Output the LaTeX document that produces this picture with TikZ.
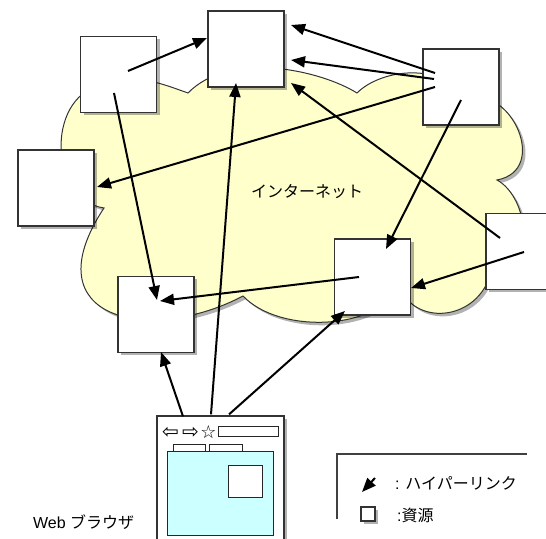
\documentclass[tikz,border=0pt]{standalone}
\usepackage{fontspec}
\setmainfont{Liberation Sans}
\newfontfamily\jp{Noto Sans CJK JP}
\newfontfamily\sym{DejaVu Sans}
\usetikzlibrary{arrows.meta,calc,shadows}
\definecolor{cloudfill}{RGB}{255,255,204}
\definecolor{pagefill}{RGB}{204,255,255}
\tikzset{
  softshadow/.style={drop shadow={shadow xshift=1.5pt,shadow yshift=-1.5pt,opacity=.3,fill=black}},
  res/.style={draw=black!80,fill=white,line width=0.6pt,minimum size=38pt,inner sep=0pt,softshadow},
  link/.style={line width=1pt,-{Triangle[length=7pt,width=5.5pt]}},
  cloud/.style={draw=black!80,fill=cloudfill,line width=0.5pt,softshadow},
  thinbox/.style={draw=black!85,line width=0.5pt},
  icon/.style={inner sep=0pt,font=\sym\fontsize{10}{10}\selectfont}
}
\begin{document}
\begin{tikzpicture}[x=0.5pt,y=-0.5pt,font=\fontsize{8}{10}\selectfont]
        \useasboundingbox (0,0) rectangle (546,539);
        \draw[cloud] (188,93) .. controls (230,50) and (320,70) .. (357,93)
            .. controls (380,70) and (440,60) .. (470,100)
            .. controls (510,85) and (550,170) .. (497,180)
            .. controls (525,195) and (540,260) .. (492,270)
            .. controls (478,325) and (410,325) .. (400,285)
            .. controls (380,330) and (280,335) .. (243,296)
            .. controls (150,345) and (30,320) .. (104,208)
            .. controls (50,200) and (45,100) .. (100,85)
            .. controls (130,70) and (165,85) .. cycle;
        \node (net) at (307,192) {\jp インターネット};

        \node[res] (A) at (118.5,74.5) {};
        \node[res] (B) at (246,49) {};
        \node[res] (C) at (461,87) {};
        \node[res] (D) at (56,188) {};
        \node[res] (E) at (156,314.5) {};
        \node[res] (F) at (372.5,277) {};
        \node[res] (G) at (524,251.5) {};

        \node[res,minimum width=63.5pt,minimum height=70pt] (browser) at (220.5,486) {};
        \node[icon] (back) at (170.5,433) {⇦};
        \node[icon] (fwd) at (190.5,433) {⇨};
        \node[icon,font=\sym\fontsize{9}{9}\selectfont] (star) at (208.5,432) {☆};
        \draw[thinbox] (218,427) rectangle (278,437);
        \draw[thinbox,fill=white] (173,445) rectangle (205,452);
        \draw[thinbox,fill=white] (209,445) rectangle (242,452);
        \draw[thinbox,fill=pagefill] (167,452) rectangle (273,535);
        \draw[thinbox,fill=white] (228,465) rectangle (262,497);
        \node[anchor=west] (webname) at (26,522) {Web \jp ブラウザ};

        \draw[link] ($(A)+(9.5,-3.5)$) -- ($(B)+(-39,-11)$);
        \draw[link] ($(A)+(-4.5,18.5)$) -- ($(E)+(1,-14.5)$);
        \draw[link] ($(C)+(-26,-14)$) -- ($(B)+(45,-24)$);
        \draw[link] ($(C)+(-27,-8)$) -- ($(B)+(45,11)$);
        \draw[link] ($(C)+(-26,0)$) -- ($(D)+(41,-1)$);
        \draw[link] ($(C)+(0,13)$) -- ($(F)+(13.5,-28)$);
        \draw[link] ($(G)+(-24,-13.5)$) -- ($(B)+(45,34)$);
        \draw[link] ($(G)+(0,0.5)$) -- ($(F)+(38.5,11)$);
        \draw[link] ($(F)+(-13.5,0)$) -- ($(E)+(4,-13.5)$);
        \draw[link] ($(browser.north)+(-37.5,1)$) -- ($(E)+(5,37.5)$);
        \draw[link] ($(browser.north)+(-9.5,-1)$) -- ($(B)+(-10,34)$);
        \draw[link] ($(browser.north)+(8.5,-1)$) -- ($(F)+(-27.5,34)$);

        \draw[draw=black!75,line width=0.6pt] (337,519) -- (337,454) -- (527,454);
        \coordinate (lgfrom) at (375,478);
        \coordinate (lgto) at (362,492);
        \draw[link] (lgfrom) -- (lgto);
        \node[anchor=west] (lglink) at (388,483) {: \jp ハイパーリンク};
        \node[res,minimum size=7pt] (lgbox) at (368,514) {};
        \node[anchor=west] (lgres) at (390,515) {:\jp 資源};
\end{tikzpicture}
\end{document}
